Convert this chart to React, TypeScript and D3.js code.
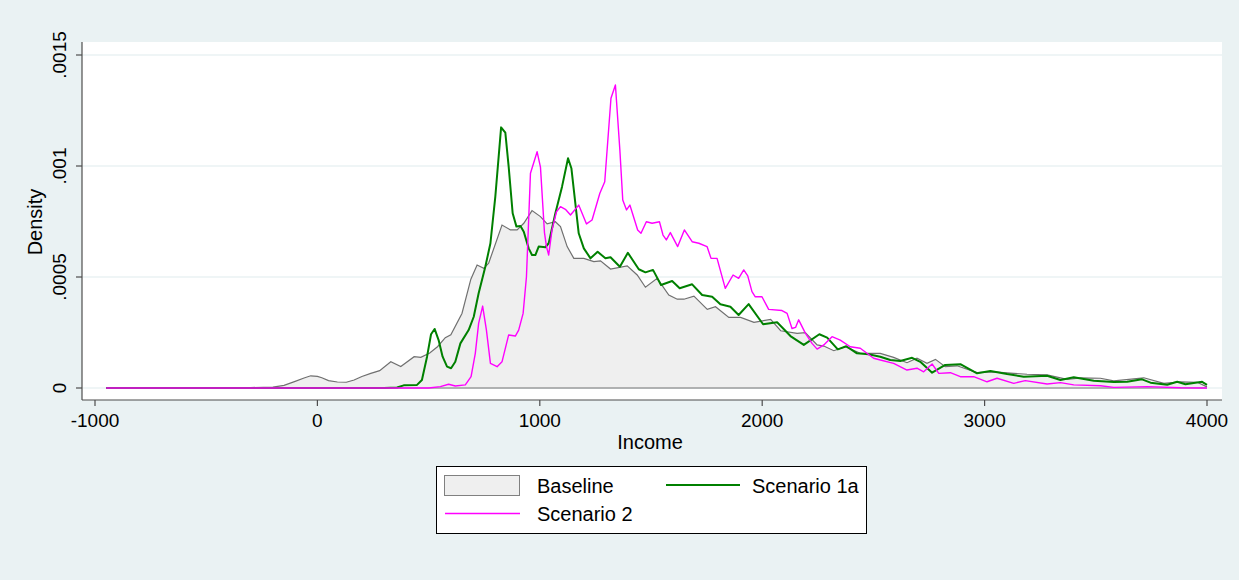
import React from "react";
import * as d3 from "d3";

// ---- Data ----
const xTicks = [-1000, 0, 1000, 2000, 3000, 4000];
const yTicks = [0, 0.0005, 0.001, 0.0015];
const yTickLabels = ["0", ".0005", ".001", ".0015"];
const seriesNames = ["Baseline", "Scenario 1a", "Scenario 2"];

const baseIncome = [-950, -600, -300, -200, -150, -100, -60, -30, 0, 20, 50, 90, 130, 165, 200, 240, 280, 330, 375, 435, 465, 505, 540, 575, 600, 650, 690, 718, 748, 770, 830, 868, 898, 928, 965, 1003, 1033, 1070, 1093, 1123, 1153, 1198, 1243, 1273, 1318, 1393, 1438, 1475, 1528, 1580, 1618, 1648, 1693, 1753, 1790, 1850, 1903, 1963, 2038, 2083, 2157, 2194, 2247, 2277, 2322, 2374, 2441, 2531, 2591, 2651, 2696, 2741, 2779, 2823, 2876, 2966, 3041, 3131, 3191, 3281, 3371, 3431, 3521, 3581, 3716, 3806, 3881, 3956, 4000];
const baseDensity = [0, 0.000001, 0.000002, 0.000004, 0.000012, 0.00003, 0.000045, 0.000055, 0.000052, 0.000046, 0.000033, 0.000027, 0.000026, 0.000036, 0.000052, 0.000066, 0.000078, 0.000118, 0.000097, 0.000141, 0.000138, 0.000158, 0.000186, 0.000227, 0.00024, 0.000336, 0.00049, 0.000554, 0.000539, 0.000562, 0.000734, 0.000712, 0.000712, 0.000742, 0.000799, 0.000772, 0.000739, 0.000749, 0.000727, 0.000637, 0.000584, 0.000584, 0.000569, 0.000573, 0.000536, 0.00055, 0.000509, 0.000454, 0.000494, 0.000419, 0.0004, 0.0004, 0.000414, 0.000354, 0.000366, 0.000318, 0.000318, 0.000296, 0.000309, 0.000258, 0.000246, 0.000249, 0.000194, 0.000189, 0.000168, 0.000186, 0.000156, 0.000156, 0.000138, 0.000114, 0.000134, 0.000111, 0.000129, 0.000096, 0.0001, 0.000069, 0.000073, 0.000066, 0.000062, 0.000059, 0.000039, 0.000046, 0.000044, 0.000032, 0.000046, 0.000021, 0.000028, 0.000026, 0.000005];

const s1Income = [-950, 300, 358, 388, 448, 470, 493, 511, 527, 545, 563, 583, 601, 620, 643, 680, 703, 725, 755, 778, 800, 826, 845, 860, 878, 895, 913, 928, 950, 965, 980, 995, 1025, 1040, 1070, 1100, 1127, 1142, 1175, 1198, 1228, 1260, 1295, 1318, 1360, 1396, 1445, 1475, 1509, 1545, 1595, 1629, 1685, 1730, 1775, 1812, 1857, 1894, 1939, 2004, 2067, 2127, 2187, 2257, 2292, 2340, 2378, 2426, 2478, 2531, 2576, 2621, 2674, 2711, 2764, 2823, 2891, 2966, 3026, 3101, 3176, 3281, 3341, 3401, 3491, 3581, 3641, 3708, 3746, 3821, 3866, 3903, 3978, 4000];
const s1Density = [0, 0, 0.000002, 0.000012, 0.000014, 0.000036, 0.000141, 0.000242, 0.000266, 0.000216, 0.000141, 0.000096, 0.000089, 0.000118, 0.000201, 0.000261, 0.000321, 0.000427, 0.000546, 0.000652, 0.000862, 0.001174, 0.00115, 0.000997, 0.000787, 0.000727, 0.00073, 0.000704, 0.000629, 0.000599, 0.000599, 0.000637, 0.000634, 0.000652, 0.000787, 0.000907, 0.001035, 0.00099, 0.000697, 0.000629, 0.000584, 0.000614, 0.000584, 0.000589, 0.000546, 0.000609, 0.000535, 0.000521, 0.000532, 0.000464, 0.000482, 0.000449, 0.000467, 0.000419, 0.000411, 0.000377, 0.000366, 0.000329, 0.000378, 0.000287, 0.000296, 0.000234, 0.000194, 0.000242, 0.000227, 0.000174, 0.000188, 0.000156, 0.000152, 0.000141, 0.000126, 0.000122, 0.000136, 0.000118, 0.000069, 0.000104, 0.000107, 0.000066, 0.000077, 0.000063, 0.000051, 0.000055, 0.000036, 0.000048, 0.000033, 0.000027, 0.000028, 0.000039, 0.000024, 0.000015, 0.000028, 0.000017, 0.000028, 0.000014];

const s2Income = [-950, 500, 553, 590, 620, 665, 691, 710, 725, 743, 760, 778, 808, 830, 860, 890, 905, 925, 940, 958, 988, 1003, 1021, 1030, 1040, 1055, 1075, 1093, 1115, 1138, 1175, 1210, 1235, 1270, 1292, 1320, 1340, 1360, 1373, 1390, 1405, 1440, 1455, 1479, 1505, 1538, 1554, 1569, 1587, 1620, 1650, 1685, 1715, 1752, 1770, 1797, 1834, 1869, 1894, 1917, 1935, 1954, 1969, 1999, 2029, 2089, 2112, 2134, 2150, 2164, 2194, 2224, 2247, 2277, 2314, 2351, 2396, 2441, 2501, 2531, 2591, 2651, 2696, 2726, 2764, 2794, 2846, 2891, 2951, 3011, 3056, 3131, 3183, 3281, 3341, 3401, 3521, 3581, 3731, 3881, 4000];
const s2Density = [0, 0, 0.000006, 0.000017, 0.000009, 0.000014, 0.000051, 0.000156, 0.000291, 0.000369, 0.000261, 0.000111, 0.000096, 0.000118, 0.000239, 0.000234, 0.000261, 0.000336, 0.000501, 0.000967, 0.001064, 0.000995, 0.0007, 0.000637, 0.000599, 0.000712, 0.000794, 0.000817, 0.000805, 0.000779, 0.000824, 0.000739, 0.000757, 0.000877, 0.000929, 0.001305, 0.001365, 0.001072, 0.000847, 0.000802, 0.000824, 0.000712, 0.000697, 0.000749, 0.000742, 0.000749, 0.000689, 0.000667, 0.0007, 0.000637, 0.000712, 0.000659, 0.000652, 0.000637, 0.000584, 0.000584, 0.000449, 0.000509, 0.000494, 0.000532, 0.000505, 0.000434, 0.000411, 0.000411, 0.000354, 0.000349, 0.000336, 0.000268, 0.000273, 0.000307, 0.000247, 0.000201, 0.000175, 0.000194, 0.000231, 0.000216, 0.000186, 0.000179, 0.000134, 0.000126, 0.000111, 0.000081, 0.000089, 0.000073, 0.000108, 0.000066, 0.000069, 0.000051, 0.000051, 0.000028, 0.000044, 0.000021, 0.000033, 0.000018, 0.000024, 0.000014, 0.00001, 0.000003, 0.000006, 0.000001, 0];

type Pt = [number, number];
const zip = (a: number[], b: number[]): Pt[] => a.map((v, i) => [v, b[i]]);

export default function App() {
  const W = 1239, H = 580;
  const plot = { left: 82, right: 1222, top: 42, bottom: 400 };
  const x = d3.scaleLinear().domain([-1000, 4000]).range([95, 1207]);
  const y = d3.scaleLinear().domain([0, 0.0015]).range([388, 55]);

  const line = d3.line<Pt>().x((d) => x(d[0])).y((d) => y(d[1]));
  const area = d3.area<Pt>().x((d) => x(d[0])).y0(y(0)).y1((d) => y(d[1]));

  const base = zip(baseIncome, baseDensity);
  const s1 = zip(s1Income, s1Density);
  const s2 = zip(s2Income, s2Density);

  const font = "'Liberation Sans', Arial, Helvetica, sans-serif";
  const bg = "#eaf2f3";
  const axisCol = "#4d4d4d";

  return (
    <svg width={W} height={H} style={{ position: "absolute", left: 0, top: 0 }} fontFamily={font}>
      <rect x={0} y={0} width={W} height={H} fill={bg} />
      <rect x={plot.left} y={plot.top} width={plot.right - plot.left} height={plot.bottom - plot.top} fill="#ffffff" />
      {yTicks.map((t) => (
        <line key={"g" + t} x1={plot.left} x2={plot.right} y1={y(t)} y2={y(t)} stroke={bg} strokeWidth={1.5} />
      ))}
      <path d={area(base) || ""} fill="#efefef" stroke="none" />
      <path d={line(base) || ""} fill="none" stroke="#707070" strokeWidth={1.2} />
      <line x1={x(-950)} x2={x(4000)} y1={y(0)} y2={y(0)} stroke="#707070" strokeWidth={1} />
      <path d={line(s1) || ""} fill="none" stroke="#008000" strokeWidth={2} strokeLinejoin="round" />
      <path d={line(s2) || ""} fill="none" stroke="#ff00ff" strokeWidth={1.4} strokeLinejoin="round" />

      {/* axes */}
      <line x1={plot.left} x2={plot.left} y1={plot.top} y2={plot.bottom} stroke={axisCol} strokeWidth={1.2} />
      <line x1={plot.left} x2={plot.right} y1={plot.bottom} y2={plot.bottom} stroke={axisCol} strokeWidth={1.2} />
      {yTicks.map((t, i) => (
        <g key={"y" + t}>
          <line x1={plot.left - 6} x2={plot.left} y1={y(t)} y2={y(t)} stroke={axisCol} strokeWidth={1.2} />
          <text transform={`translate(66,${y(t)}) rotate(-90)`} textAnchor="middle" fontSize={19} fill="#000">
            {yTickLabels[i]}
          </text>
        </g>
      ))}
      {xTicks.map((t) => (
        <g key={"x" + t}>
          <line x1={x(t)} x2={x(t)} y1={plot.bottom} y2={plot.bottom + 6} stroke={axisCol} strokeWidth={1.2} />
          <text x={x(t)} y={427} textAnchor="middle" fontSize={19} fill="#000">
            {t}
          </text>
        </g>
      ))}
      <text x={650} y={449} textAnchor="middle" fontSize={20} fill="#000">Income</text>
      <text transform={`translate(42,222) rotate(-90)`} textAnchor="middle" fontSize={20} fill="#000">Density</text>

      {/* legend */}
      <rect x={436.5} y={466.5} width={430} height={67} fill="#ffffff" stroke="#000" strokeWidth={1} />
      <rect x={444.5} y={475.5} width={75} height={20} fill="#efefef" stroke="#808080" strokeWidth={1} />
      <text x={537} y={492.5} fontSize={20} fill="#000">{seriesNames[0]}</text>
      <line x1={666} x2={740} y1={485} y2={485} stroke="#008000" strokeWidth={2} />
      <text x={752} y={492.5} fontSize={20} fill="#000">{seriesNames[1]}</text>
      <line x1={445} x2={520} y1={513.5} y2={513.5} stroke="#ff00ff" strokeWidth={1.4} />
      <text x={537} y={521} fontSize={20} fill="#000">{seriesNames[2]}</text>
    </svg>
  );
}
